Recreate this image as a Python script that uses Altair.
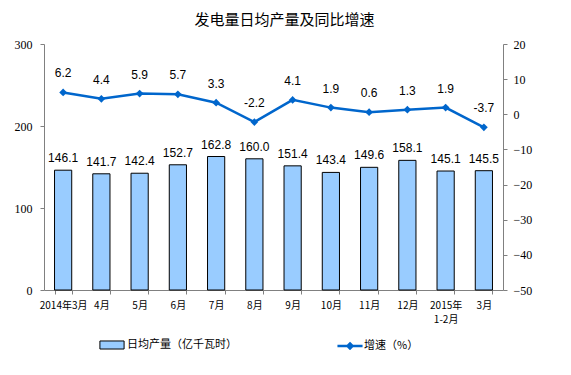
import altair as alt
import pandas as pd

months = ["2014年3月", "4月", "5月", "6月", "7月", "8月", "9月", "10月", "11月", "12月", "2015年\n1-2月", "3月"]
output = [146.1, 141.7, 142.4, 152.7, 162.8, 160.0, 151.4, 143.4, 149.6, 158.1, 145.1, 145.5]
growth = [6.2, 4.4, 5.9, 5.7, 3.3, -2.2, 4.1, 1.9, 0.6, 1.3, 1.9, -3.7]
bar_name = "日均产量（亿千瓦时）"
line_name = "增速（%）"

df = pd.DataFrame({"month": months, "output": output, "growth": growth,
                   "s1": bar_name, "s2": line_name})
df["glabel"] = df["growth"].map(lambda v: f"{v:.1f}")
df["olabel"] = df["output"].map(lambda v: f"{v:.1f}")

W, H = 459, 246
font = "Liberation Sans"
serif = "Liberation Serif"
cjk = "Noto Sans CJK SC"

x = alt.X("month:N", sort=months, title=None,
          scale=alt.Scale(paddingInner=0.55, paddingOuter=0.275),
          axis=alt.Axis(labelAngle=0, labelFont=cjk, labelFontSize=10, labelColor="#000",
                        labelExpr="split(datum.label, '\\n')", labelPadding=6,
                        tickBand="extent", tickSize=4, tickColor="#808080",
                        domainColor="#808080", labelLineHeight=14))

y_left = alt.Y("output:Q", title=None,
               scale=alt.Scale(domain=[0, 300], nice=False),
               axis=alt.Axis(values=[0, 100, 200, 300], grid=False, labelFont=serif,
                             labelFontSize=12, labelColor="#000", domainColor="#808080",
                             tickColor="#808080", tickSize=4, labelPadding=8,
                             labelOverlap=False))

y_right = alt.Y("growth:Q", title=None,
                scale=alt.Scale(domain=[-50, 20], nice=False),
                axis=alt.Axis(orient="right", values=[-50, -40, -30, -20, -10, 0, 10, 20], grid=False,
                              labelFont=serif, labelFontSize=12, labelColor="#000",
                              domainColor="#808080", tickColor="#808080", tickSize=4, labelPadding=6,
                              labelOverlap=False, labelBound=False))

bars = alt.Chart().mark_bar(fill="#99CCFF", stroke="#000", strokeWidth=1).encode(
    color=alt.Color("s1:N", scale=alt.Scale(domain=[bar_name], range=["#99CCFF"]),
                    legend=alt.Legend(title=None, orient="none", legendX=59, legendY=292,
                                      symbolType="M-1.5,-0.5H1.5V0.5H-1.5Z", symbolSize=260,
                                      symbolStrokeColor="#000", symbolStrokeWidth=1,
                                      symbolFillColor="#99CCFF", labelOffset=6, labelLimit=400,
                                      labelFont=cjk, labelFontSize=11, labelColor="#000")),
)

bar_text = alt.Chart().mark_text(dy=-12, font=font, fontSize=12, color="#000").encode(
    text="olabel:N",
)

left = alt.layer(bars, bar_text, data=df).encode(x=x, y=y_left)

line = alt.Chart().mark_line(color="#0066CC", strokeWidth=2.5,
                             point=alt.OverlayMarkDef(shape="diamond", size=60, filled=True, color="#0066CC")).encode(
    color=alt.Color("s2:N", scale=alt.Scale(domain=[line_name], range=["#0066CC"]),
                    legend=alt.Legend(title=None, orient="none", legendX=296, legendY=292,
                                      symbolType="M-1.5,0H1.5M0,-0.3L0.3,0L0,0.3L-0.3,0Z",
                                      symbolSize=280, symbolStrokeWidth=2.5,
                                      symbolStrokeColor="#0066CC", symbolFillColor="#0066CC",
                                      labelOffset=4, labelLimit=400,
                                      labelFont=cjk, labelFontSize=11, labelColor="#000")),
)

line_text = alt.Chart().mark_text(dy=-19, font=font, fontSize=12, color="#000").encode(
    text="glabel:N",
)

right = alt.layer(line, line_text, data=df).encode(x=x, y=y_right)

chart = alt.layer(left, right).resolve_scale(y="independent", color="independent").properties(
    width=W, height=H,
    title=alt.TitleParams("发电量日均产量及同比增速", font=cjk, fontSize=15, fontWeight="normal",
                          color="#000", anchor="middle", dx=11, offset=10),
    autosize=alt.AutoSizeParams(type="none"),
    padding={"left": 36, "top": 36, "right": 60, "bottom": 60},
).configure_view(stroke="transparent")

chart.save("out.html", embed_options={"renderer": "svg", "actions": False})
